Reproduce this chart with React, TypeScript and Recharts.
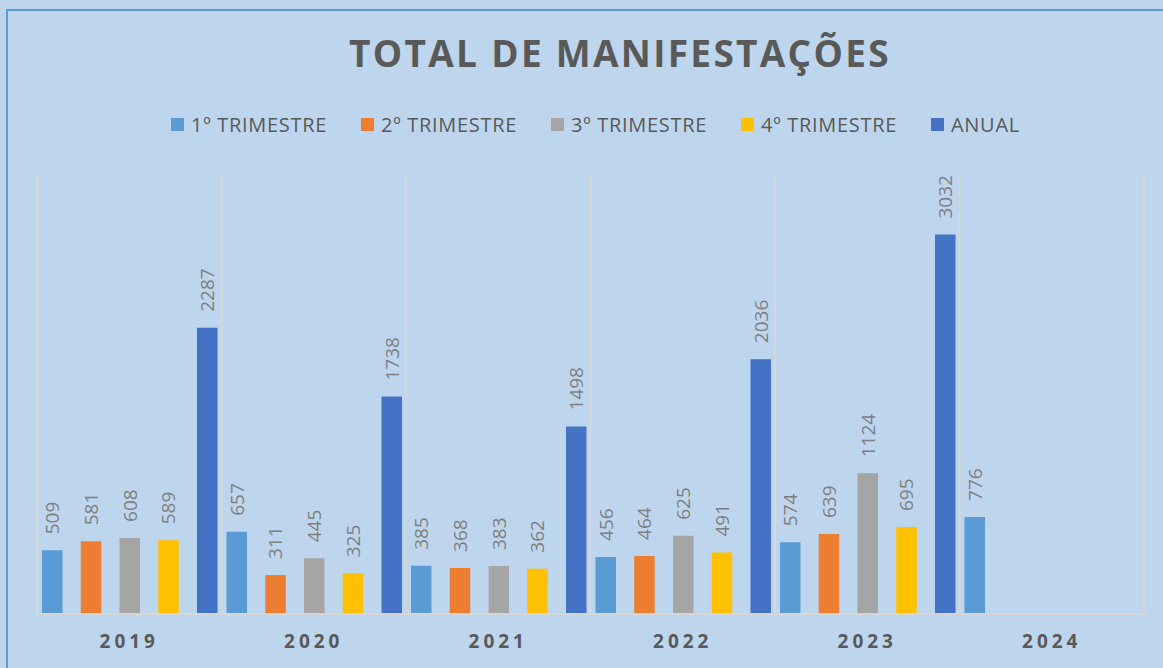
import React from 'react';
import { BarChart, Bar, XAxis, YAxis, CartesianGrid, LabelList } from 'recharts';

const CATEGORIES = ['2019', '2020', '2021', '2022', '2023', '2024'];
const T1 = [509, 657, 385, 456, 574, 776];
const T2 = [581, 311, 368, 464, 639, null];
const T3 = [608, 445, 383, 625, 1124, null];
const T4 = [589, 325, 362, 491, 695, null];
const ANUAL = [2287, 1738, 1498, 2036, 3032, null];

const SERIES = [
  { key: 't1', name: '1º TRIMESTRE', values: T1, color: '#5B9BD5' },
  { key: 't2', name: '2º TRIMESTRE', values: T2, color: '#ED7D31' },
  { key: 't3', name: '3º TRIMESTRE', values: T3, color: '#A5A5A5' },
  { key: 't4', name: '4º TRIMESTRE', values: T4, color: '#FFC000' },
  { key: 'anual', name: 'ANUAL', values: ANUAL, color: '#4472C4' },
];

const data = CATEGORIES.map((c, i) => {
  const row: any = { year: c };
  SERIES.forEach((s) => {
    row[s.key] = s.values[i];
  });
  return row;
});

const FONT = '"Open Sans", "Liberation Sans", sans-serif';
const BG = '#BED6ED';

const ValueLabel = (props: any) => {
  const { x, y, width, value } = props;
  if (value === null || value === undefined || value === '') return null;
  const cx = Number(x) + Number(width) / 2;
  const cy = Number(y) - 16;
  return (
    <text
      x={cx}
      y={cy}
      transform={`rotate(-90, ${cx}, ${cy})`}
      textAnchor="start"
      dominantBaseline="central"
      fill="#7F7F7F"
      fontSize={19}
      fontFamily={FONT}
    >
      {value}
    </text>
  );
};

const YearTick = (props: any) => {
  const { x, y, payload } = props;
  return (
    <text
      x={x}
      y={Number(y) + 34}
      textAnchor="middle"
      fill="#595959"
      fontSize={19}
      fontWeight="bold"
      fontFamily={FONT}
      letterSpacing={4}
    >
      {payload.value}
    </text>
  );
};

export default function App() {
  return (
    <div
      style={{
        position: 'fixed',
        left: 0,
        top: 0,
        width: 1163,
        height: 668,
        background: BG,
        overflow: 'hidden',
        fontFamily: FONT,
      }}
    >
      <div
        style={{
          position: 'absolute',
          left: 6,
          top: 9,
          width: 1200,
          height: 700,
          borderLeft: '2px solid #5B9BD5',
          borderTop: '2px solid #5B9BD5',
        }}
      />
      <div
        style={{
          position: 'absolute',
          left: 620,
          top: 28,
          transform: 'translateX(-50%)',
          whiteSpace: 'nowrap',
          fontSize: 37,
          fontWeight: 'bold',
          letterSpacing: 2.3,
          color: '#595959',
          fontFamily: FONT,
          lineHeight: '50px',
        }}
      >
        TOTAL DE MANIFESTAÇÕES
      </div>
      <div
        style={{
          position: 'absolute',
          left: 171,
          top: 110,
          display: 'flex',
          height: 28,
          alignItems: 'center',
        }}
      >
        {SERIES.map((s) => (
          <div key={s.key} style={{ width: 190, display: 'flex', alignItems: 'center' }}>
            <div style={{ width: 13, height: 13, background: s.color, marginRight: 7 }} />
            <span
              style={{
                fontSize: 20,
                letterSpacing: 0.7,
                color: '#595959',
                fontFamily: FONT,
                whiteSpace: 'nowrap',
              }}
            >
              {s.name}
            </span>
          </div>
        ))}
      </div>
      <div style={{ position: 'absolute', left: 0, top: 0 }}>
        <BarChart
          width={1163}
          height={668}
          data={data}
          margin={{ top: 176, right: 19, bottom: 24, left: 37 }}
          barGap={18.25}
        >
          <CartesianGrid
            horizontal={false}
            stroke="#D6D6D6"
            strokeWidth={2}
            verticalCoordinatesGenerator={({ offset }: any) =>
              Array.from({ length: CATEGORIES.length + 1 }, (_, i) => offset.left + (i * offset.width) / CATEGORIES.length)
            }
          />
          <XAxis
            dataKey="year"
            height={30}
            tickLine={false}
            tickSize={0}
            tickMargin={0}
            axisLine={{ stroke: '#D6D6D6', strokeWidth: 2 }}
            tick={<YearTick />}
            interval={0}
          />
          <YAxis hide domain={[0, 3500]} />
          {SERIES.map((s) => (
            <Bar key={s.key} dataKey={s.key} name={s.name} fill={s.color} barSize={20.5} isAnimationActive={false}>
              <LabelList dataKey={s.key} content={<ValueLabel />} />
            </Bar>
          ))}
        </BarChart>
      </div>
    </div>
  );
}
